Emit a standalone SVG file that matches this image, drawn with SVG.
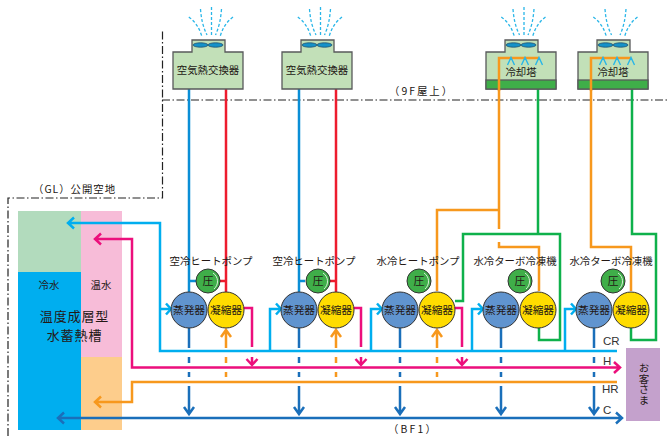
<svg xmlns="http://www.w3.org/2000/svg" xmlns:xlink="http://www.w3.org/1999/xlink" width="669" height="436" viewBox="0 0 669 436">
<style>
text{font-family:"Noto Sans CJK JP","Noto Sans",sans-serif;fill:#231815;font-size:10.4px}
.m{text-anchor:middle}
.lat{font-family:"Liberation Sans",sans-serif;font-size:11.5px;fill:#333}
.big{font-size:13px;letter-spacing:.9px}
.dd{fill:none;stroke:#222;stroke-width:1.2;stroke-dasharray:8 2.500 1.500 2.500}
.p{fill:none;stroke-width:2.500;stroke-linejoin:miter}
.cy{stroke:#00aeef}.bl{stroke:#0a8ed6}.rd{stroke:#ed1c2e}.db{stroke:#1a6fba}.pk{stroke:#ec0f7c}.or{stroke:#f7981d}.gr{stroke:#0fb14b}
.ah{fill:none;stroke-width:2.500}
.body{fill:#c2e0b8;stroke:#58595b;stroke-width:1.300}
.fan{fill:#1591c8;stroke:#1d4e6b;stroke-width:.8}
.spray{fill:none;stroke:#29b6e8;stroke-width:1.300;stroke-dasharray:3 2}
.chev{fill:none;stroke:#29b6e8;stroke-width:1.400}
.ev{fill:#6094cf;stroke:#333;stroke-width:1}
.co{fill:#ffdc00;stroke:#333;stroke-width:1}
.cp{fill:#3fae49;stroke:#333;stroke-width:1}
.cph{fill:none;stroke:#d8eed8;stroke-width:1}
</style>
<defs>
<g id="sprayset4">
<path class="spray" d="M-22.700 17Q-13 24-9.500 37"/>
<path class="spray" d="M-11 9Q-10 24-4.500 35"/>
<path class="spray" d="M10 9Q9 24 4 35"/>
<path class="spray" d="M21.500 17Q12 24 8.500 37"/>
</g>
<path id="centerdash" class="spray" d="M0 7V35"/>
<path id="fanbody" class="body" d="M-35 52H-16V40H17V52H35V89H-35Z"/>
<g id="fans">
<ellipse class="fan" cx="-7.500" cy="45" rx="7.500" ry="2.200"/>
<ellipse class="fan" cx="7.500" cy="45" rx="7.500" ry="2.200"/>
</g>
<path id="chevs" class="chev" d="M-13.500 65L-10 57.500L-6.500 65M0.500 65L4 57.500L7.500 65M14.500 65L18 57.500L21.500 65"/>
<g id="unit">
<circle class="cp" cx="19" cy="-29" r="12"/>
<path class="cph" d="M24-37A10 10 0 0 1 25-21"/>
<circle class="ev" cx="0" cy="0" r="18"/>
<circle class="co" cx="37" cy="0" r="18"/>
<text class="m" x="19" y="-25" style="font-size:11px">圧</text>
<text class="m" x="0" y="3.800" style="font-size:10.700px">蒸発器</text>
<text class="m" x="37" y="3.800" style="font-size:10.700px">凝縮器</text>
</g>
<path id="down" class="p db" d="M0 328V348M0 357V363M0 372V377M0 386V414M-5 407L0 414L5 407"/>
<path id="up" class="p or" d="M0 348V330M0 357V363M0 372V377M-5 337L0 330L5 337"/>
<path id="cyarrow" class="ah cy" d="M-5 -5.500L0 0L-5 5.500"/>
</defs>

<g id="boundaries">
<path class="dd" d="M8 436V198H162.500V30"/>
<path class="dd" d="M162 100H669"/>
</g>

<g id="tank">
<rect x="18" y="211" width="64" height="61" fill="#b2dbbd"/>
<rect x="81" y="211" width="41" height="146" fill="#f7bcd8"/>
<rect x="18" y="272" width="63" height="158" fill="#00aeef"/>
<rect x="81" y="357" width="41" height="73" fill="#fdcd8c"/>
<text class="m" x="49" y="289">冷水</text>
<text class="m" x="101" y="289">温水</text>
<text class="m big" x="74.500" y="320.500">温度成層型</text>
<text class="m big" x="74.500" y="340">水蓄熱槽</text>
</g>

<g id="connectors">
<path class="p bl" d="M189 89V292M189 281H196"/>
<path class="p rd" d="M226 89V292M226 281H220"/>
<path class="p bl" d="M299 89V292M299 281H305"/>
<path class="p rd" d="M336 89V292M336 281H329"/>
<path class="p or" d="M499 58V229M499 210H437V291M499 242V247H539V291"/>
<path class="p gr" d="M538 89V234M538 234H463V301H455M538 234H560V340H539V328"/>
<path class="p or" d="M591 58V247H631V291"/>
<path class="p gr" d="M632 89V234H656V340H631V328"/>
<path class="p cy" d="M617 351H160V223H68M74 217.500L68 223L74 228.500"/>
<path class="p cy" d="M160 309H170M270 351V309H280M371 351V309H381M472 351V309H482M565 351V309H575"/>
<g>
<use xlink:href="#cyarrow" href="#cyarrow" x="171" y="309"/>
<use xlink:href="#cyarrow" href="#cyarrow" x="281" y="309"/>
<use xlink:href="#cyarrow" href="#cyarrow" x="382" y="309"/>
<use xlink:href="#cyarrow" href="#cyarrow" x="483" y="309"/>
<use xlink:href="#cyarrow" href="#cyarrow" x="576" y="309"/>
</g>
<path class="p pk" d="M619 367.500H132V239H95M101 233.500L95 239L101 244.500M614 362L620 367.500L614 373"/>
<path class="p pk" d="M244 308H252V347M252 357V365M246.500 359L252 365L257.500 359"/>
<path class="p pk" d="M354 308H361V347M361 357V365M355.500 359L361 365L366.500 359"/>
<path class="p pk" d="M455 308H462V347M462 357V365M456.500 359L462 365L467.500 359"/>
<path class="p or" d="M617 382H132V402H95M101 396.500L95 402L101 407.500"/>
<path class="p db" d="M58 418H622M64 412.500L58 418L64 423.500M616 412.500L622 418L616 423.500"/>
<use xlink:href="#down" href="#down" x="189"/>
<use xlink:href="#down" href="#down" x="299"/>
<use xlink:href="#down" href="#down" x="400"/>
<use xlink:href="#down" href="#down" x="501"/>
<use xlink:href="#down" href="#down" x="594"/>
<use xlink:href="#up" href="#up" x="226"/>
<use xlink:href="#up" href="#up" x="336"/>
<use xlink:href="#up" href="#up" x="437"/>
</g>

<g id="hx1" transform="translate(208 0)">
<use xlink:href="#fanbody" href="#fanbody"/><use xlink:href="#fans" href="#fans"/>
<use xlink:href="#sprayset4" href="#sprayset4" x="3.500"/><use xlink:href="#centerdash" href="#centerdash" x="3.500"/>
<text class="m" x="0" y="74">空気熱交換器</text>
</g>
<g id="hx2" transform="translate(317 0)">
<use xlink:href="#fanbody" href="#fanbody"/><use xlink:href="#fans" href="#fans"/>
<use xlink:href="#sprayset4" href="#sprayset4" x="3.500"/><use xlink:href="#centerdash" href="#centerdash" x="3.500"/>
<text class="m" x="0" y="74">空気熱交換器</text>
</g>
<g id="ct1" transform="translate(521 0)">
<use xlink:href="#fanbody" href="#fanbody"/>
<rect x="-35" y="80" width="70" height="9" fill="#3fae49" stroke="#58595b" stroke-width="1.300"/>
<use xlink:href="#fans" href="#fans"/>
<use xlink:href="#sprayset4" href="#sprayset4" x="3"/><use xlink:href="#centerdash" href="#centerdash" x="3"/>
<text class="m" x="0" y="76">冷却塔</text>
</g>
<g id="ct2" transform="translate(613 0)">
<use xlink:href="#fanbody" href="#fanbody"/>
<rect x="-35" y="80" width="70" height="9" fill="#3fae49" stroke="#58595b" stroke-width="1.300"/>
<use xlink:href="#fans" href="#fans"/>
<use xlink:href="#sprayset4" href="#sprayset4" x="3"/>
<text class="m" x="0" y="76">冷却塔</text>
</g>
<g id="tower-pipes">
<path class="p or" d="M499 91V58H539M591 91V58H631"/>
<use xlink:href="#chevs" href="#chevs" x="521"/>
<use xlink:href="#chevs" href="#chevs" x="613"/>
</g>

<use id="u1" xlink:href="#unit" href="#unit" x="189" y="310"/>
<use id="u2" xlink:href="#unit" href="#unit" x="299" y="310"/>
<use id="u3" xlink:href="#unit" href="#unit" x="400" y="310"/>
<use id="u4" xlink:href="#unit" href="#unit" x="501" y="310"/>
<use id="u5" xlink:href="#unit" href="#unit" x="594" y="310"/>

<g id="labels">
<text class="m" x="211" y="265">空冷ヒートポンプ</text>
<text class="m" x="314" y="265">空冷ヒートポンプ</text>
<text class="m" x="418" y="265">水冷ヒートポンプ</text>
<text class="m" x="515" y="265">水冷ターボ冷凍機</text>
<text class="m" x="611" y="265">水冷ターボ冷凍機</text>
<text x="33" y="193" style="letter-spacing:1px">（GL）公開空地</text>
<text x="389" y="95" style="letter-spacing:2px">（9F屋上）</text>
<text x="388" y="433" style="letter-spacing:2.200px">（BF1）</text>
<text class="lat" x="603" y="345">CR</text>
<text class="lat" x="603" y="365">H</text>
<text class="lat" x="602" y="393">HR</text>
<text class="lat" x="603" y="414">C</text>
</g>

<g id="customer">
<rect x="626" y="348" width="34" height="73" fill="#c4a1cc"/>
<text x="644" y="384" text-anchor="middle" style="writing-mode:vertical-rl;font-size:10.500px">お客さま</text>
</g>
</svg>
